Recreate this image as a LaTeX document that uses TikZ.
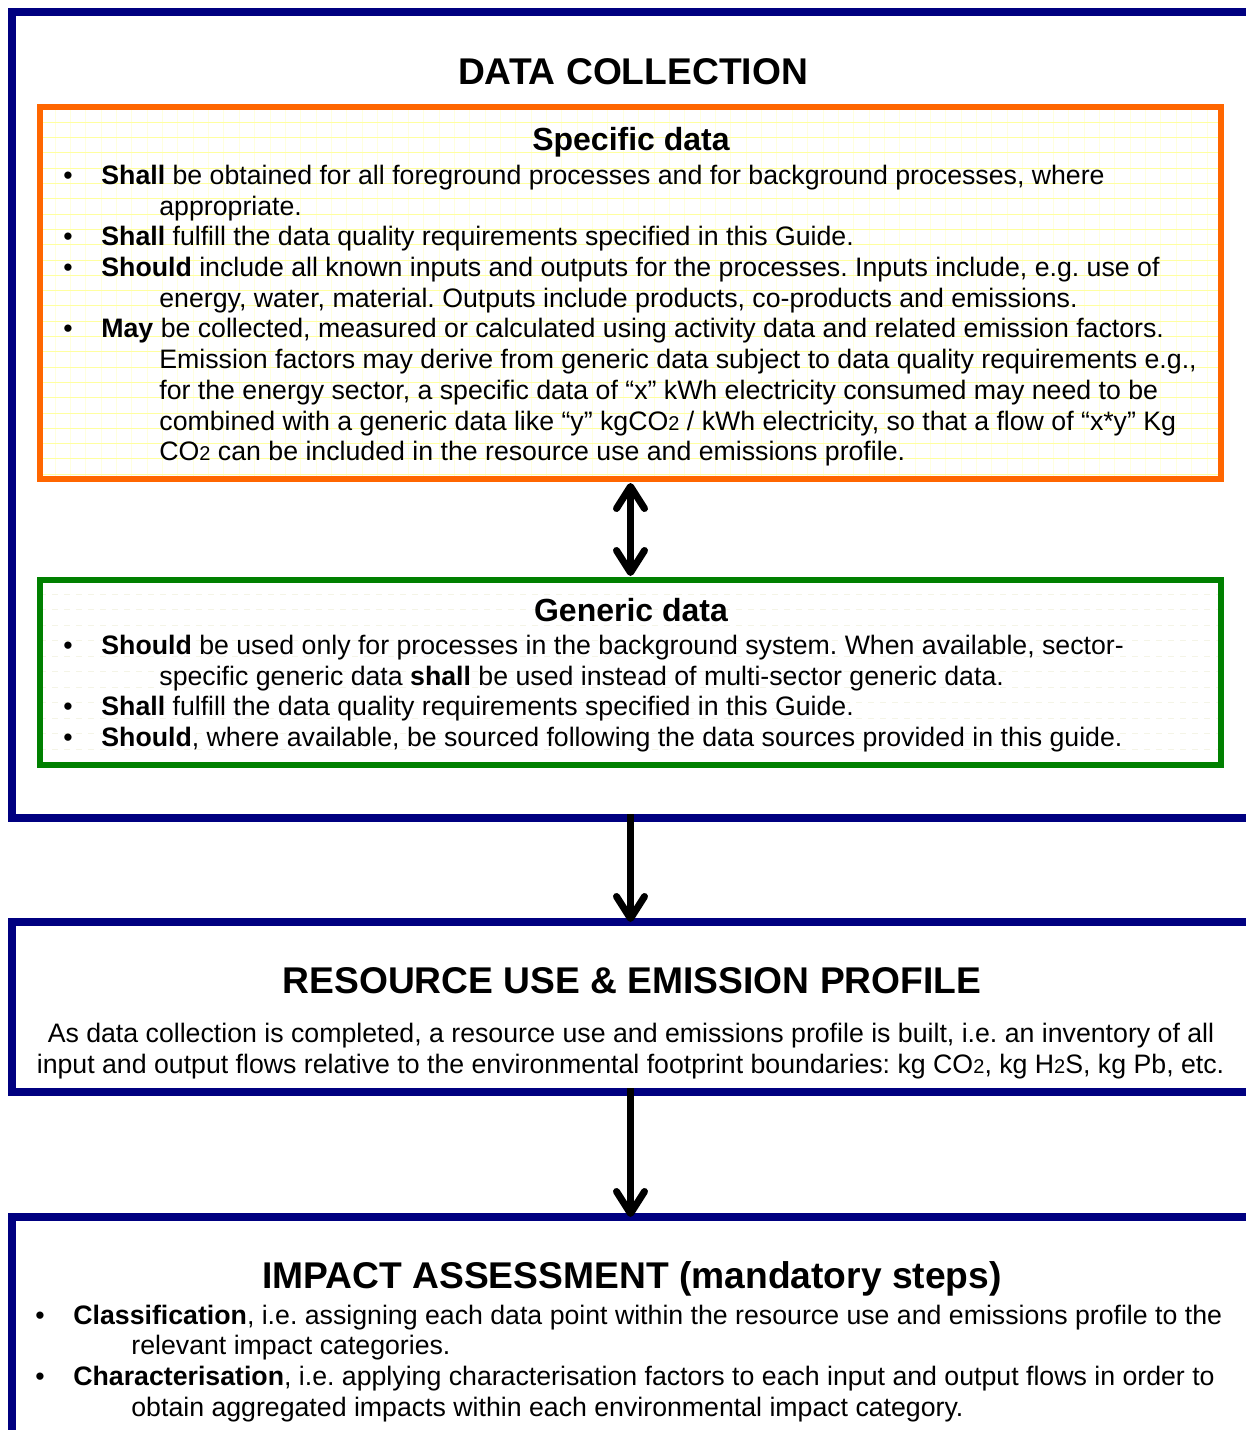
\documentclass[tikz,border=0pt]{standalone}
\usepackage{fontspec}
\setmainfont{Liberation Sans}
\usepackage{tikz}
\usetikzlibrary{arrows.meta}
\frenchspacing

\definecolor{navyline}{RGB}{0,0,128}
\definecolor{specorange}{RGB}{255,102,0}
\definecolor{gengreen}{RGB}{0,128,0}
\definecolor{gridh}{RGB}{255,255,160}
\definecolor{gridv}{RGB}{255,255,222}
\definecolor{genline}{RGB}{244,244,230}

\newcommand{\bodysize}{\fontsize{13.35}{15.35}\selectfont}
\newcommand{\mainhead}{\fontsize{18.6}{22}\selectfont\bfseries}
\newcommand{\subhead}{\fontsize{16}{19}\selectfont\bfseries}
\newcommand{\lowtwo}{{\fontsize{10}{12}\selectfont 2}}

\tikzset{
  bluebox/.style={draw=navyline,line width=4pt,outer sep=0pt,inner sep=0pt},
  specbox/.style={draw=specorange,line width=3pt,outer sep=0pt,inner sep=0pt},
  genbox/.style={draw=gengreen,line width=3pt,outer sep=0pt,inner sep=0pt},
  txt/.style={anchor=base west,inner sep=0pt,font=\bodysize},
  ctxt/.style={anchor=base,inner sep=0pt,font=\bodysize},
  bul/.style={anchor=base,inner sep=0pt,font=\bodysize},
  flow/.style={line width=3.5pt,
    -{Straight Barb[length=11pt,width=14pt,round]}},
  twoway/.style={line width=3.5pt,
    {Straight Barb[length=11pt,width=14pt,round]}-{Straight Barb[length=11pt,width=14pt,round]}}
}

\begin{document}
\begin{tikzpicture}[x=0.5pt,y=-0.5pt]

\path[use as bounding box,clip] (0,0) rectangle (1246,1430);

%%% yellow grid of the specific data box %%%
\begin{scope}
  \clip (40,107) rectangle (1221,479);
  \foreach \gx in {55,70.36,...,1221}
    \draw[gridv,line width=0.5pt] (\gx,107) -- (\gx,479);
  \foreach \gy in {122.3,137.6,...,479}
    \draw[gridh,line width=0.5pt] (40,\gy) -- (1221,\gy);
\end{scope}

%%% faint lines of the generic data box %%%
\begin{scope}
  \clip (40,580) rectangle (1221,765);
  \foreach \gy in {594,609.5,...,765}
    \draw[genline,line width=0.5pt,dashed] (40,\gy) -- (1221,\gy);
\end{scope}

%%% boxes %%%
  \node (dc) at (636.75,414.75) [bluebox,minimum width=625.25pt,minimum height=403.25pt] {};
  \node (rue) at (636.75,1007) [bluebox,minimum width=625.25pt,minimum height=85pt] {};
  \node (ia) at (636.75,1333.5) [bluebox,minimum width=625.25pt,minimum height=116.5pt] {};
  \node (spec) at (630.5,293) [specbox,minimum width=590.5pt,minimum height=186pt] {};
  \node (gen) at (630.5,672.5) [genbox,minimum width=590.5pt,minimum height=92.5pt] {};

%%% data collection %%%
  \node (dctitle) at (633,84) [anchor=base,inner sep=0pt,font=\mainhead] {DATA COLLECTION};
  \node (spectitle) at (631,150) [anchor=base,inner sep=0pt,font=\subhead] {Specific data};

  \node (b1) at (68,184) [bul] {•};
  \node (b2) at (68,245) [bul] {•};
  \node (b3) at (68,276) [bul] {•};
  \node (b4) at (68,337) [bul] {•};

  \node (s1) at (101,184) [txt] {\textbf{Shall} be obtained for all foreground processes and for background processes, where};
  \node (s2) at (159,215) [txt] {appropriate.};
  \node (s3) at (101,245) [txt] {\textbf{Shall} fulfill the data quality requirements specified in this Guide.};
  \node (s4) at (101,276) [txt] {\textbf{Should} include all known inputs and outputs for the processes. Inputs include, e.g. use of};
  \node (s5) at (159,307) [txt] {energy, water, material. Outputs include products, co-products and emissions.};
  \node (s6) at (101,337) [txt] {\textbf{May} be collected, measured or calculated using activity data and related emission factors.};
  \node (s7) at (159,368) [txt] {Emission factors may derive from generic data subject to data quality requirements e.g.,};
  \node (s8) at (159,399) [txt] {for the energy sector, a specific data of “x” kWh electricity consumed may need to be};
  \node (s9) at (159,430) [txt] {combined with a generic data like “y” kgCO\lowtwo{} / kWh electricity, so that a flow of “x*y” Kg};
  \node (s10) at (159,460) [txt] {CO\lowtwo{} can be included in the resource use and emissions profile.};

  \node (gentitle) at (631,621) [anchor=base,inner sep=0pt,font=\subhead] {Generic data};

  \node (c1) at (68,654) [bul] {•};
  \node (c2) at (68,715) [bul] {•};
  \node (c3) at (68,746) [bul] {•};

  \node (g1) at (101,654) [txt] {\textbf{Should} be used only for processes in the background system. When available, sector-};
  \node (g2) at (159,685) [txt] {specific generic data \textbf{shall} be used instead of multi-sector generic data.};
  \node (g3) at (101,715) [txt] {\textbf{Shall} fulfill the data quality requirements specified in this Guide.};
  \node (g4) at (101,746) [txt] {\textbf{Should}, where available, be sourced following the data sources provided in this guide.};

%%% resource use profile %%%
  \node (ruetitle) at (632,993) [anchor=base,inner sep=0pt,font=\mainhead] {RESOURCE USE \& EMISSION PROFILE};
  \node (r1) at (631,1042) [ctxt] {As data collection is completed, a resource use and emissions profile is built, i.e. an inventory of all};
  \node (r2) at (630.5,1073) [ctxt] {input and output flows relative to the environmental footprint boundaries: kg CO\lowtwo, kg H\lowtwo S, kg Pb, etc.};

%%% impact assessment %%%
  \node (iatitle) at (632,1288) [anchor=base,inner sep=0pt,font=\mainhead] {IMPACT ASSESSMENT (mandatory steps)};

  \node (d1) at (40,1324) [bul] {•};
  \node (d2) at (40,1385) [bul] {•};

  \node (i1) at (73,1324) [txt] {\textbf{Classification}, i.e. assigning each data point within the resource use and emissions profile to the};
  \node (i2) at (131,1354) [txt] {relevant impact categories.};
  \node (i3) at (73,1385) [txt] {\textbf{Characterisation}, i.e. applying characterisation factors to each input and output flows in order to};
  \node (i4) at (131,1416) [txt] {obtain aggregated impacts within each environmental impact category.};

%%% arrows %%%
\draw[twoway,shorten <=2pt,shorten >=2pt] (spec.south) -- (gen.north);
\draw[flow,shorten <=-2pt] (spec.south |- dc.south) -- (spec.south |- rue.north);
\draw[flow,shorten <=-2pt] (spec.south |- rue.south) -- (spec.south |- ia.north);

\end{tikzpicture}
\end{document}
